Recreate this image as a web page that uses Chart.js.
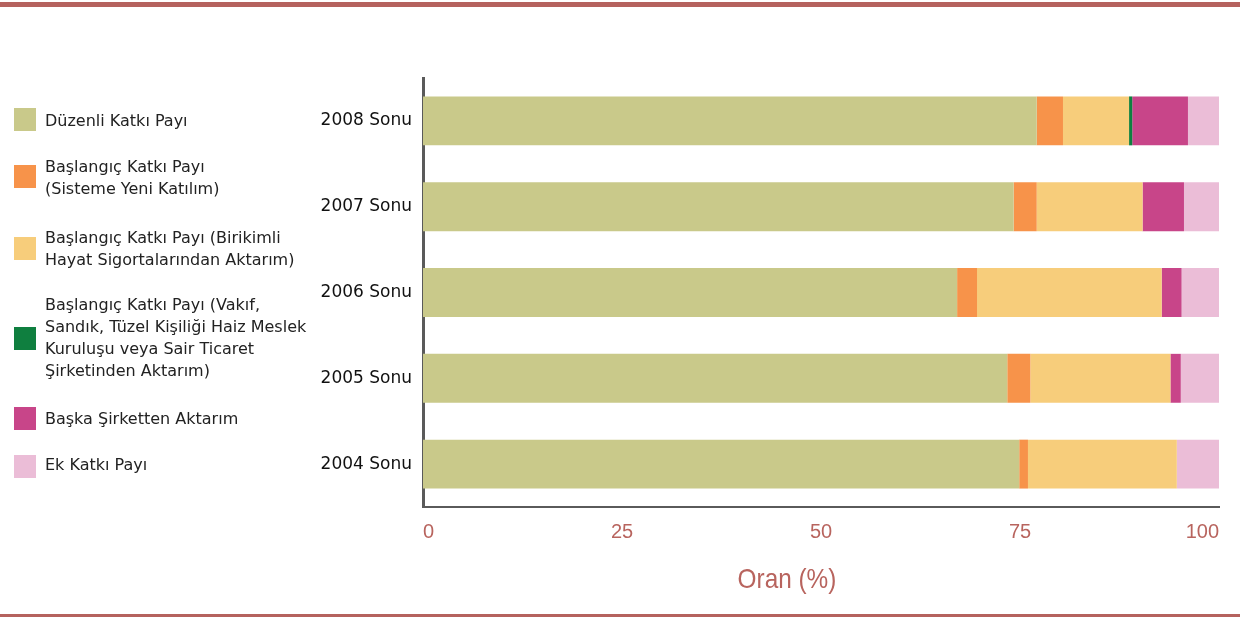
<!DOCTYPE html>
<html>
<head>
<meta charset="utf-8">
<script src="https://cdn.jsdelivr.net/npm/chart.js@4"></script>
<style>
  body { margin: 0; background: #fff; }
  #wrap { position: relative; width: 1240px; height: 617px; overflow: hidden; }
  #chart { position: absolute; left: 0; top: 0; }
  .cizgi { position: absolute; left: 0; width: 1240px; background: #b5625e; }
  .lej { position: absolute; left: 0; font-family: "DejaVu Sans", sans-serif; font-size: 16px; line-height: 22px; color: #222; }
  .lej .kutu { position: absolute; left: 14px; width: 22px; height: 23px; }
  .lej .yazi { position: absolute; left: 45px; white-space: nowrap; }
  #baslik { position: absolute; left: 687px; width: 200px; top: 563px; text-align: center;
    font-family: "Liberation Sans", sans-serif; font-size: 28px; color: #b8645e;
    transform: scaleX(0.87); }
</style>
</head>
<body>
<div id="wrap">
  <div class="cizgi" style="top:2px;height:5px"></div>
  <canvas id="chart" width="1240" height="617"></canvas>
  <div id="lejant"></div>
  <div id="baslik">Oran (%)</div>
  <div class="cizgi" style="top:614px;height:3px"></div>
</div>
<script>
const yillar = ['2008 Sonu', '2007 Sonu', '2006 Sonu', '2005 Sonu', '2004 Sonu'];
const xTikler = [0, 25, 50, 75, 100];

const duzenliKatki = [77.1, 74.2, 67.1, 73.4, 74.9];
const yeniKatilim = [3.3, 2.9, 2.5, 2.9, 1.1];
const birikimliAktarim = [8.3, 13.3, 23.2, 17.6, 18.7];
const vakifAktarim = [0.4, 0, 0, 0, 0];
const baskaSirket = [7.0, 5.2, 2.5, 1.3, 0];
const ekKatki = [3.9, 4.4, 4.7, 4.8, 5.3];

const seriler = [
  { ad: ['Düzenli Katkı Payı'], veri: duzenliKatki, renk: '#c9c98a', ust: 110, kutu: 108 },
  { ad: ['Başlangıç Katkı Payı', '(Sisteme Yeni Katılım)'], veri: yeniKatilim, renk: '#f7934a', ust: 156, kutu: 165 },
  { ad: ['Başlangıç Katkı Payı (Birikimli', 'Hayat Sigortalarından Aktarım)'], veri: birikimliAktarim, renk: '#f7cd7b', ust: 227, kutu: 237 },
  { ad: ['Başlangıç Katkı Payı (Vakıf,', 'Sandık, Tüzel Kişiliği Haiz Meslek', 'Kuruluşu veya Sair Ticaret', 'Şirketinden Aktarım)'], veri: vakifAktarim, renk: '#0f7f3f', ust: 294, kutu: 327 },
  { ad: ['Başka Şirketten Aktarım'], veri: baskaSirket, renk: '#c84589', ust: 408, kutu: 407 },
  { ad: ['Ek Katkı Payı'], veri: ekKatki, renk: '#ebbdd7', ust: 454, kutu: 455 }
];

// lejant (sol taraf)
const lejant = document.getElementById('lejant');
seriler.forEach(s => {
  const d = document.createElement('div');
  d.className = 'lej';
  d.innerHTML = '<div class="kutu" style="top:' + s.kutu + 'px;background:' + s.renk + '"></div>' +
    '<div class="yazi" style="top:' + s.ust + 'px">' + s.ad.join('<br>') + '</div>';
  lejant.appendChild(d);
});

const ctx = document.getElementById('chart').getContext('2d');
const grafik = new Chart(ctx, {
  type: 'bar',
  data: {
    labels: yillar,
    datasets: seriler.map(s => ({
      label: s.ad.join(' '),
      data: s.veri,
      backgroundColor: s.renk,
      borderWidth: 0,
      categoryPercentage: 1,
      barPercentage: 0.57
    }))
  },
  options: {
    indexAxis: 'y',
    responsive: false,
    animation: false,
    devicePixelRatio: 1,
    layout: { padding: { top: 78, right: 21, left: 0, bottom: 0 } },
    plugins: { legend: { display: false }, tooltip: { enabled: false } },
    scales: {
      x: {
        stacked: true,
        min: 0,
        max: 100,
        afterBuildTicks: ax => { ax.ticks = xTikler.map(v => ({ value: v })); },
        afterFit: ax => { ax.height = 110; ax.paddingLeft = 0; ax.paddingRight = 0; },
        grid: { display: false, drawTicks: false },
        border: { display: true, color: '#5a5a5a', width: 2 },
        ticks: {
          align: 'inner',
          padding: 13,
          color: '#b8645e',
          font: { family: '"Liberation Sans", sans-serif', size: 20 }
        }
      },
      y: {
        stacked: true,
        afterFit: ax => { ax.width = 423; },
        grid: { display: false, drawTicks: false },
        border: { display: true, color: '#5a5a5a', width: 3 },
        ticks: {
          padding: 11,
          color: '#111',
          font: { family: '"DejaVu Sans", sans-serif', size: 17 }
        }
      }
    }
  }
});
</script>
</body>
</html>
